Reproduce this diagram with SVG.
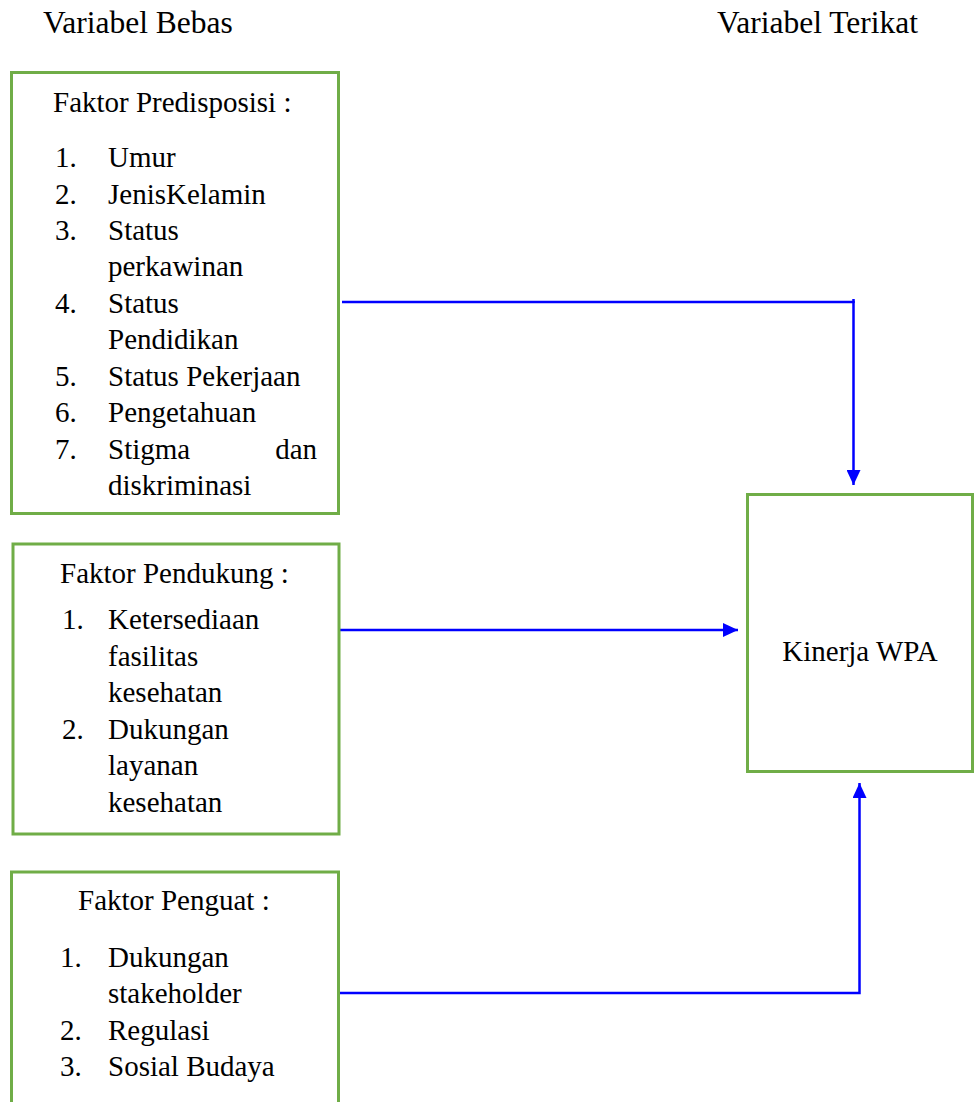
<svg xmlns="http://www.w3.org/2000/svg" width="974" height="1102" viewBox="0 0 974 1102">
<defs>
<marker id="ah" markerUnits="userSpaceOnUse" markerWidth="16" markerHeight="14" refX="15" refY="7" orient="auto">
<path d="M0,0 L15,7 L0,14 Z" fill="#0000FF"/>
</marker>
</defs>
<rect width="974" height="1102" fill="#fff"/>
<g id="headers">
<text font-family="Liberation Serif" font-size="31.5" x="43" y="33">Variabel Bebas</text>
<text font-family="Liberation Serif" font-size="31.5" x="717" y="33">Variabel Terikat</text>
</g>
<g id="connectors" fill="none" stroke="#0000FF" stroke-width="2.5">
<path d="M342,302 H853.5 V485" marker-end="url(#ah)"/>
<path d="M853.5,299 V303"/>
<path d="M340,630 H738" marker-end="url(#ah)"/>
<path d="M340,993 H859.5 V783" marker-end="url(#ah)"/>
</g>
<g id="predisposisi">
<rect x="11.5" y="72.5" width="327" height="441" fill="#fff" stroke="#70AD47" stroke-width="3"/>
<text font-family="Liberation Serif" font-size="29" x="53" y="112">Faktor Predisposisi :</text>
<text font-family="Liberation Serif" font-size="29" x="55" y="167">1.</text><text font-family="Liberation Serif" font-size="29" x="108" y="167">Umur</text>
<text font-family="Liberation Serif" font-size="29" x="55" y="204">2.</text><text font-family="Liberation Serif" font-size="29" x="108" y="204">JenisKelamin</text>
<text font-family="Liberation Serif" font-size="29" x="55" y="240">3.</text><text font-family="Liberation Serif" font-size="29" x="108" y="240">Status</text>
<text font-family="Liberation Serif" font-size="29" x="108" y="276">perkawinan</text>
<text font-family="Liberation Serif" font-size="29" x="55" y="313">4.</text><text font-family="Liberation Serif" font-size="29" x="108" y="313">Status</text>
<text font-family="Liberation Serif" font-size="29" x="108" y="349">Pendidikan</text>
<text font-family="Liberation Serif" font-size="29" x="55" y="386">5.</text><text font-family="Liberation Serif" font-size="29" x="108" y="386">Status Pekerjaan</text>
<text font-family="Liberation Serif" font-size="29" x="55" y="422">6.</text><text font-family="Liberation Serif" font-size="29" x="108" y="422">Pengetahuan</text>
<text font-family="Liberation Serif" font-size="29" x="55" y="459">7.</text><text font-family="Liberation Serif" font-size="29" x="108" y="459">Stigma</text><text font-family="Liberation Serif" font-size="29" x="317" y="459" text-anchor="end">dan</text>
<text font-family="Liberation Serif" font-size="29" x="108" y="495">diskriminasi</text>
</g>
<g id="pendukung">
<rect x="13" y="544" width="326" height="290" fill="#fff" stroke="#70AD47" stroke-width="3"/>
<text font-family="Liberation Serif" font-size="29" x="60" y="583">Faktor Pendukung :</text>
<text font-family="Liberation Serif" font-size="29" x="62" y="629">1.</text><text font-family="Liberation Serif" font-size="29" x="108" y="629">Ketersediaan</text>
<text font-family="Liberation Serif" font-size="29" x="108" y="666">fasilitas</text>
<text font-family="Liberation Serif" font-size="29" x="108" y="702">kesehatan</text>
<text font-family="Liberation Serif" font-size="29" x="62" y="739">2.</text><text font-family="Liberation Serif" font-size="29" x="108" y="739">Dukungan</text>
<text font-family="Liberation Serif" font-size="29" x="108" y="775">layanan</text>
<text font-family="Liberation Serif" font-size="29" x="108" y="812">kesehatan</text>
</g>
<g id="penguat">
<rect x="11.5" y="872" width="327" height="250" fill="#fff" stroke="#70AD47" stroke-width="3"/>
<text font-family="Liberation Serif" font-size="29" x="78" y="910">Faktor Penguat :</text>
<text font-family="Liberation Serif" font-size="29" x="60" y="967">1.</text><text font-family="Liberation Serif" font-size="29" x="108" y="967">Dukungan</text>
<text font-family="Liberation Serif" font-size="29" x="108" y="1003">stakeholder</text>
<text font-family="Liberation Serif" font-size="29" x="60" y="1040">2.</text><text font-family="Liberation Serif" font-size="29" x="108" y="1040">Regulasi</text>
<text font-family="Liberation Serif" font-size="29" x="60" y="1076">3.</text><text font-family="Liberation Serif" font-size="29" x="108" y="1076">Sosial Budaya</text>
</g>
<g id="kinerja">
<rect x="747.5" y="494.5" width="225" height="277" fill="#fff" stroke="#70AD47" stroke-width="3"/>
<text font-family="Liberation Serif" font-size="29" x="860" y="661" text-anchor="middle">Kinerja WPA</text>
</g>
</svg>
